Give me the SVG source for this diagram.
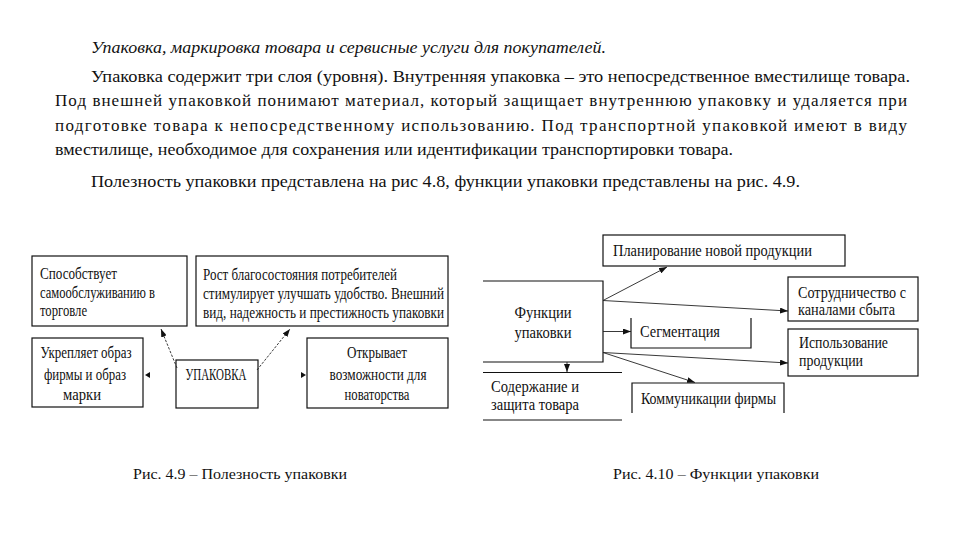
<svg xmlns="http://www.w3.org/2000/svg" width="960" height="540" viewBox="0 0 960 540">
<defs>
<style>
.t{font-family:"Liberation Serif","Times New Roman",serif;font-size:17px;fill:#111}
.d{font-family:"Liberation Serif","Times New Roman",serif;font-size:16px;fill:#111}
.c{font-family:"Liberation Serif","Times New Roman",serif;font-size:15.5px;fill:#111}
.box{fill:#fff;stroke:#111;stroke-width:1.2}
.ln{fill:none;stroke:#111;stroke-width:1.2}
.ar{fill:none;stroke:#222;stroke-width:0.9}
.dash{fill:none;stroke:#222;stroke-width:0.9;stroke-dasharray:2.5 1.5}
</style>
<marker id="ah" viewBox="0 0 8 6" refX="8" refY="3" markerWidth="8" markerHeight="6" markerUnits="userSpaceOnUse" orient="auto">
<path d="M0,0 L8,3 L0,6 Z" fill="#111"/>
</marker>
</defs>
<rect width="960" height="540" fill="#fff"/>

<g id="text">
<text class="t" x="91" y="53" font-style="italic" textLength="515" lengthAdjust="spacingAndGlyphs">Упаковка, маркировка товара и сервисные услуги для покупателей.</text>
<text class="t" x="91" y="82" textLength="819" lengthAdjust="spacingAndGlyphs">Упаковка содержит три слоя (уровня). Внутренняя упаковка – это непосредственное вместилище товара.</text>
<text class="t" x="55" y="106" textLength="852" lengthAdjust="spacing">Под внешней упаковкой понимают материал, который защищает внутреннюю упаковку и удаляется при</text>
<text class="t" x="55" y="131" textLength="852" lengthAdjust="spacing">подготовке товара к непосредственному использованию. Под транспортной упаковкой имеют в виду</text>
<text class="t" x="55" y="155" textLength="678" lengthAdjust="spacingAndGlyphs">вместилище, необходимое для сохранения или идентификации транспортировки товара.</text>
<text class="t" x="91" y="187" textLength="709" lengthAdjust="spacingAndGlyphs">Полезность упаковки представлена на рис 4.8, функции упаковки представлены на рис. 4.9.</text>
</g>

<!-- Left diagram: Рис. 4.9 -->
<g id="n-sposobstvuet">
<rect class="box" x="32" y="256" width="155" height="70"/>
<text class="d" x="40" y="279" textLength="77" lengthAdjust="spacingAndGlyphs">Способствует</text>
<text class="d" x="40" y="298" textLength="115" lengthAdjust="spacingAndGlyphs">самообслуживанию в</text>
<text class="d" x="40" y="316" textLength="47" lengthAdjust="spacingAndGlyphs">торговле</text>
</g>
<g id="n-rost">
<rect class="box" x="196" y="256" width="252" height="70"/>
<text class="d" x="203" y="280" textLength="194" lengthAdjust="spacingAndGlyphs">Рост благосостояния потребителей</text>
<text class="d" x="203" y="299" textLength="241" lengthAdjust="spacingAndGlyphs">стимулирует улучшать удобство. Внешний</text>
<text class="d" x="203" y="318" textLength="241" lengthAdjust="spacingAndGlyphs">вид, надежность и престижность упаковки</text>
</g>
<g id="n-ukreplyaet">
<rect class="box" x="32" y="338" width="111" height="69"/>
<text class="d" x="86" y="358" text-anchor="middle" textLength="91" lengthAdjust="spacingAndGlyphs">Укрепляет образ</text>
<text class="d" x="85" y="380" text-anchor="middle" textLength="82" lengthAdjust="spacingAndGlyphs">фирмы и образ</text>
<text class="d" x="82" y="400" text-anchor="middle" textLength="38" lengthAdjust="spacingAndGlyphs">марки</text>
</g>
<g id="n-upakovka">
<rect class="box" x="176" y="360" width="82" height="48"/>
<text class="d" x="216" y="380" text-anchor="middle" textLength="61" lengthAdjust="spacingAndGlyphs">УПАКОВКА</text>
</g>
<g id="n-otkryvaet">
<rect class="box" x="307" y="338" width="141" height="70"/>
<text class="d" x="377" y="358" text-anchor="middle" textLength="60" lengthAdjust="spacingAndGlyphs">Открывает</text>
<text class="d" x="378" y="380" text-anchor="middle" textLength="97" lengthAdjust="spacingAndGlyphs">возможности для</text>
<text class="d" x="377" y="400" text-anchor="middle" textLength="65" lengthAdjust="spacingAndGlyphs">новаторства</text>
</g>
<g id="connectors-left">
<line class="dash" x1="177" y1="368" x2="161" y2="329" marker-end="url(#ah)"/>
<line class="dash" x1="257" y1="370" x2="290" y2="329" marker-end="url(#ah)"/>
<path d="M145,375 L150,372 L150,378 Z" fill="#111"/>
<path d="M306,375 L301,372 L301,378 Z" fill="#111"/>
</g>

<!-- Right diagram: Рис. 4.10 -->
<g id="n-planirovanie">
<rect class="box" x="603" y="235" width="242" height="31"/>
<text class="d" x="613" y="256" textLength="199" lengthAdjust="spacingAndGlyphs">Планирование новой продукции</text>
</g>
<g id="n-funkcii">
<path class="ln" d="M483,281 H603 V362 H483"/>
<text class="d" x="543" y="318" text-anchor="middle" textLength="57" lengthAdjust="spacingAndGlyphs">Функции</text>
<text class="d" x="543" y="338" text-anchor="middle" textLength="57" lengthAdjust="spacingAndGlyphs">упаковки</text>
</g>
<g id="n-sotrudnichestvo">
<rect class="box" x="788" y="277" width="130" height="44"/>
<text class="d" x="798" y="298" textLength="108" lengthAdjust="spacingAndGlyphs">Сотрудничество с</text>
<text class="d" x="798" y="315" textLength="97" lengthAdjust="spacingAndGlyphs">каналами сбыта</text>
</g>
<g id="n-segmentaciya">
<path class="ln" d="M631,318 V348 H751 V318"/>
<text class="d" x="640" y="337" textLength="80" lengthAdjust="spacingAndGlyphs">Сегментация</text>
</g>
<g id="n-ispolzovanie">
<rect class="box" x="788" y="329" width="130" height="47"/>
<text class="d" x="799" y="348" textLength="89" lengthAdjust="spacingAndGlyphs">Использование</text>
<text class="d" x="799" y="366" textLength="64" lengthAdjust="spacingAndGlyphs">продукции</text>
</g>
<g id="n-kommunikacii">
<path class="ln" d="M632,413 V383 H784 V413"/>
<text class="d" x="641" y="404" textLength="135" lengthAdjust="spacingAndGlyphs">Коммуникации фирмы</text>
</g>
<g id="n-soderzhanie">
<path class="ln" d="M483,372.5 H622 M483,420 H622"/>
<text class="d" x="491" y="392" textLength="88" lengthAdjust="spacingAndGlyphs">Содержание и</text>
<text class="d" x="491" y="410" textLength="88" lengthAdjust="spacingAndGlyphs">защита товара</text>
</g>
<g id="connectors-right">
<line class="ar" x1="603" y1="300.5" x2="667" y2="267" marker-end="url(#ah)"/>
<line class="ar" x1="603" y1="300.5" x2="788" y2="311" marker-end="url(#ah)"/>
<line class="ar" x1="603" y1="331.5" x2="631" y2="331.5" marker-end="url(#ah)"/>
<line class="ar" x1="603" y1="352.5" x2="788" y2="363" marker-end="url(#ah)"/>
<line class="ar" x1="603" y1="352.5" x2="695" y2="382.5" marker-end="url(#ah)"/>
<line class="ar" x1="567" y1="362" x2="567" y2="372" marker-end="url(#ah)"/>
</g>

<g id="captions">
<text class="c" x="133" y="479" textLength="214" lengthAdjust="spacingAndGlyphs">Рис. 4.9 – Полезность упаковки</text>
<text class="c" x="613" y="479" textLength="206" lengthAdjust="spacingAndGlyphs">Рис. 4.10 – Функции упаковки</text>
</g>
</svg>
